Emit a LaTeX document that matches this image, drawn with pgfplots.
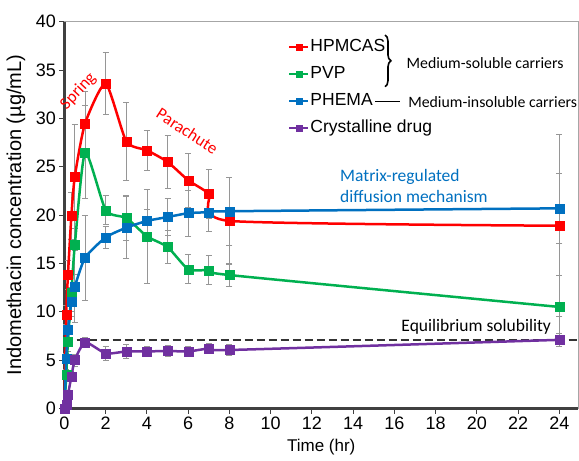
\documentclass[border=0pt]{standalone}
\usepackage{fontspec}
\setmainfont{Liberation Sans}
\newfontfamily\calibri{Carlito}
\usepackage{pgfplots}
\usepackage{pgfplotstable}
\pgfplotsset{compat=1.18}
\usetikzlibrary{decorations.pathreplacing}
\definecolor{cred}{RGB}{255,0,0}
\definecolor{cgreen}{RGB}{0,176,80}
\definecolor{cblue}{RGB}{0,112,192}
\definecolor{cpurple}{RGB}{112,48,160}
\definecolor{errgray}{RGB}{150,150,150}

% time (hr), concentration, sd
\pgfplotstableread{
t y e
0 0 0
0.083 9.7 1.0
0.167 13.8 1.5
0.333 19.9 2.4
0.5 24.0 5.4
1 29.5 3.3
2 33.6 3.2
3 27.6 4.0
4 26.7 2.1
5 25.5 2.7
6 23.6 2.8
7 22.2 2.5
8 19.4 4.5
24 18.9 9.4
}\hpmcas
\pgfplotstableread{
t y e
0 0 0
0.083 3.5 0.5
0.167 6.9 1.0
0.333 12.0 2.0
0.5 16.9 3.0
1 26.5 4.8
2 20.5 1.5
3 19.7 2.3
4 17.8 4.9
5 16.7 1.7
6 14.4 1.5
7 14.3 1.5
8 13.8 1.2
24 10.5 3.3
}\pvp
\pgfplotstableread{
t y e
0 0 0
0.083 5.2 0.5
0.167 8.1 1.0
0.333 11.0 1.5
0.5 12.6 3.7
1 15.6 4.4
2 17.7 1.1
3 18.7 3.2
4 19.4 1.2
5 19.8 1.9
6 20.2 2.4
7 20.3 2.0
8 20.4 3.5
24 20.7 3.6
}\phema
\pgfplotstableread{
t y e
0 0 0
0.083 0.4 0.2
0.167 1.4 0.3
0.333 3.3 0.5
0.5 5.0 0.6
1 6.85 0.5
2 5.7 0.7
3 5.9 0.7
4 5.9 0.5
5 5.95 0.6
6 5.9 0.5
7 6.2 0.5
8 6.05 0.6
24 7.1 0.7
}\cryst

\pgfplotsset{
  errs/.style={forget plot, only marks, mark=none,
    error bars/.cd, y dir=both, y explicit,
    error bar style={draw=errgray, line width=0.9bp},
    error mark options={draw=errgray, rotate=90, mark size=3bp, line width=0.9bp}},
  ser/.style={#1, line width=2.5bp, smooth, tension=0.35, mark=square*,
    mark size=4.5bp, mark options={solid, line width=0.4bp}},
}

\begin{document}
\begin{tikzpicture}
\useasboundingbox (-64.5bp,-52.5bp) rectangle (514.5bp,408.5bp);
\begin{axis}[
  scale only axis, width=513.5bp, height=386.8bp,
  xmin=0, xmax=24.9, ymin=0, ymax=40,
  xtick={0,2,...,24}, ytick={0,5,...,40},
  tick pos=left, tick align=outside, major tick length=5bp,
  tick style={black!75, line width=1bp},
  axis line style={draw=gray!70, line width=1bp},
  clip=false,
  ticklabel style={font=\fontsize{18bp}{20bp}\selectfont},
  /pgf/number format/assume math mode=true,
  xlabel={Time (hr)},
  ylabel={Indomethacin concentration (µg/mL)},
  xlabel style={font=\fontsize{17bp}{20bp}\selectfont, at={(axis description cs:0.5,-0.0995)}, anchor=center},
  ylabel style={font=\fontsize{20bp}{22bp}\selectfont, at={(axis description cs:-0.0944,0.5)}, anchor=center},
  legend style={at={(axis cs:10.84,38.35)}, anchor=north west, draw=none, fill=none,
    font=\fontsize{17.5bp}{20bp}\selectfont, inner sep=0pt, row sep=8.8bp,
    nodes={inner sep=1bp, text height=12.5bp, text depth=3.7bp}},
  legend cell align=left,
  legend image code/.code={\draw[#1, mark repeat=2, mark phase=2, mark size=3bp, line width=2.2bp]
    plot coordinates {(0bp,0bp)(9.5bp,0bp)(19bp,0bp)};},
]
\draw[line width=2.2bp, black!75] (rel axis cs:0,1) -- (rel axis cs:0,0) -- (rel axis cs:1,0);

\addplot[errs] table[x=t, y=y, y error=e] {\hpmcas};
\addplot[errs] table[x=t, y=y, y error=e] {\pvp};
\addplot[errs] table[x=t, y=y, y error=e] {\phema};
\addplot[errs] table[x=t, y=y, y error=e] {\cryst};

\addplot[forget plot, black!80, line width=1.5bp, dash pattern=on 8bp off 4bp] coordinates {(0,7.1)(24.9,7.1)};

\addplot[ser=cred] table[x=t, y=y] {\hpmcas};
\addplot[ser=cgreen] table[x=t, y=y] {\pvp};
\addplot[ser=cblue] table[x=t, y=y] {\phema};
\addplot[ser=cpurple] table[x=t, y=y] {\cryst};
\legend{HPMCAS, PVP, PHEMA, Crystalline drug}

\draw[decorate, decoration={brace, amplitude=6bp}, line width=1.6bp] (axis cs:15.54,38.62) -- (axis cs:15.54,33.28);
\draw[line width=1.4bp] (axis cs:15.06,31.73) -- (axis cs:16.27,31.73);
\node[anchor=west, font=\calibri\fontsize{15.8bp}{18bp}\selectfont] at (axis cs:16.42,35.72) {Medium-soluble carriers};
\node[anchor=west, font=\calibri\fontsize{15.8bp}{18bp}\selectfont] at (axis cs:16.5,31.73) {Medium-insoluble carriers};
\node[rotate=47, text=cred, font=\calibri\fontsize{17bp}{20bp}\selectfont] at (axis cs:0.67,32.8) {Spring};
\node[rotate=-33, text=cred, font=\calibri\fontsize{17bp}{20bp}\selectfont] at (axis cs:5.96,28.7) {Parachute};
\node[anchor=west, align=left, text=cblue, font=\calibri\fontsize{17.5bp}{21bp}\selectfont] at (axis cs:13.2,23.06) {Matrix-regulated\\diffusion mechanism};
\node[anchor=west, font=\calibri\fontsize{17.5bp}{20bp}\selectfont] at (axis cs:16.17,8.46) {Equilibrium solubility};
\end{axis}
\end{tikzpicture}
\end{document}
